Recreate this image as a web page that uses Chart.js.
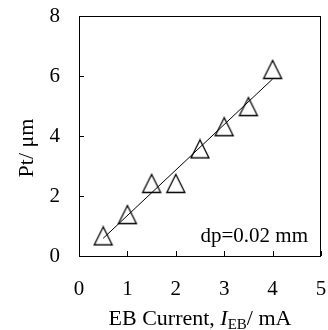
<!DOCTYPE html>
<html>
<head>
<meta charset="utf-8">
<script src="https://cdn.jsdelivr.net/npm/chart.js@4"></script>
<style>
  body { margin: 0; background: #fff; }
  canvas { display: block; }
</style>
</head>
<body>
<canvas id="myChart" width="328" height="330"></canvas>
<script>
// measured points (EB current in mA, Pt thickness in um)
const eb_current = [0.5, 1.0, 1.5, 2.0, 2.5, 3.0, 3.5, 4.0];
const pt_thickness = [0.67, 1.38, 2.42, 2.42, 3.57, 4.31, 4.98, 6.22];

// fitted straight line, two ends
const fit_x = [0.5, 4.0];
const fit_y = [0.59, 5.9];

const x_ticks = [0, 1, 2, 3, 4, 5];
const y_ticks = [0, 2, 4, 6, 8];
const note_text = "dp=0.02 mm";
const y_title = "Pt/ μm";

const serif = "'Liberation Serif', 'Times New Roman', serif";

// open triangle marker, centred on its box like the original
const tri = document.createElement("canvas");
tri.width = 22;
tri.height = 21;
const tctx = tri.getContext("2d");
tctx.strokeStyle = "#000";
tctx.lineWidth = 1.3;
tctx.beginPath();
tctx.moveTo(11, 1.5);
tctx.lineTo(2, 19.5);
tctx.lineTo(20, 19.5);
tctx.closePath();
tctx.stroke();

const points = eb_current.map((x, i) => ({x: x, y: pt_thickness[i]}));
const fitLine = fit_x.map((x, i) => ({x: x, y: fit_y[i]}));

// fixed axis sizes, and no extra room asked for by the tick labels
function fixSize(s, w, h) {
  if (w) s.width = w;
  if (h) s.height = h;
  s.paddingTop = 0;
  s.paddingBottom = 0;
  s.paddingLeft = 0;
  s.paddingRight = 0;
}

// frame, inward tick marks, note and both axis titles
const frameAndText = {
  id: "frameAndText",
  afterDraw(chart) {
    const ctx = chart.ctx;
    const a = chart.chartArea;
    const xs = chart.scales.x, ys = chart.scales.y;
    ctx.save();
    ctx.strokeStyle = "#000";
    ctx.lineWidth = 1;
    ctx.strokeRect(a.left + 0.5, a.top + 0.5, a.right - a.left - 1, a.bottom - a.top);
    ctx.beginPath();
    x_ticks.forEach(v => {
      const px = Math.round(xs.getPixelForValue(v)) + 0.5;
      ctx.moveTo(px, a.bottom);
      ctx.lineTo(px, a.bottom - 5);
    });
    y_ticks.forEach(v => {
      const py = Math.round(ys.getPixelForValue(v)) + 0.5;
      ctx.moveTo(a.left, py);
      ctx.lineTo(a.left + 5, py);
    });
    ctx.stroke();

    ctx.fillStyle = "#000";
    ctx.font = "21px " + serif;
    ctx.textAlign = "right";
    ctx.textBaseline = "middle";
    ctx.fillText(note_text, a.right - 13, a.bottom - 20);

    // y title, rotated
    ctx.save();
    ctx.translate(27, 148);
    ctx.rotate(-Math.PI / 2);
    ctx.textAlign = "center";
    ctx.font = "22px " + serif;
    ctx.fillText(y_title, 0, 0);
    ctx.restore();

    // "EB Current, I_EB/ mA"
    const parts = [
      {t: "EB Current, ", f: "22px " + serif, dy: 0},
      {t: "I", f: "italic 22px " + serif, dy: 0},
      {t: "EB", f: "15px " + serif, dy: 4},
      {t: "/ mA", f: "22px " + serif, dy: 0}
    ];
    let total = 0;
    parts.forEach(p => { ctx.font = p.f; p.w = ctx.measureText(p.t).width; total += p.w; });
    let cx = (a.left + a.right) / 2 - total / 2;
    ctx.textAlign = "left";
    ctx.textBaseline = "alphabetic";
    parts.forEach(p => {
      ctx.font = p.f;
      ctx.fillText(p.t, cx, 325 + p.dy);
      cx += p.w;
    });
    ctx.restore();
  }
};

new Chart(document.getElementById("myChart").getContext("2d"), {
  type: "scatter",
  data: {
    datasets: [
      {
        label: "fit",
        data: fitLine,
        showLine: true,
        borderColor: "#000",
        borderWidth: 1,
        pointRadius: 0,
        fill: false
      },
      {
        label: "Pt",
        data: points,
        pointStyle: tri,
        pointRadius: 10,
        borderColor: "#000",
        backgroundColor: "rgba(0,0,0,0)"
      }
    ]
  },
  options: {
    responsive: false,
    animation: false,
    devicePixelRatio: 1,
    layout: { autoPadding: false, padding: { top: 16, right: 7, left: 0, bottom: 0 } },
    plugins: {
      legend: { display: false },
      tooltip: { enabled: false }
    },
    scales: {
      x: {
        type: "linear",
        min: 0,
        max: 5,
        afterFit: s => fixSize(s, 0, 74),
        afterBuildTicks: s => { s.ticks = x_ticks.map(v => ({value: v})); },
        grid: { display: false, drawTicks: false },
        border: { display: false },
        ticks: { color: "#000", padding: 21, font: { family: serif, size: 21 } }
      },
      y: {
        type: "linear",
        min: 0,
        max: 8,
        afterFit: s => fixSize(s, 79, 0),
        afterBuildTicks: s => { s.ticks = y_ticks.map(v => ({value: v})); },
        grid: { display: false, drawTicks: false },
        border: { display: false },
        ticks: { color: "#000", padding: 19, font: { family: serif, size: 21 } }
      }
    }
  },
  plugins: [frameAndText]
});
</script>
</body>
</html>
